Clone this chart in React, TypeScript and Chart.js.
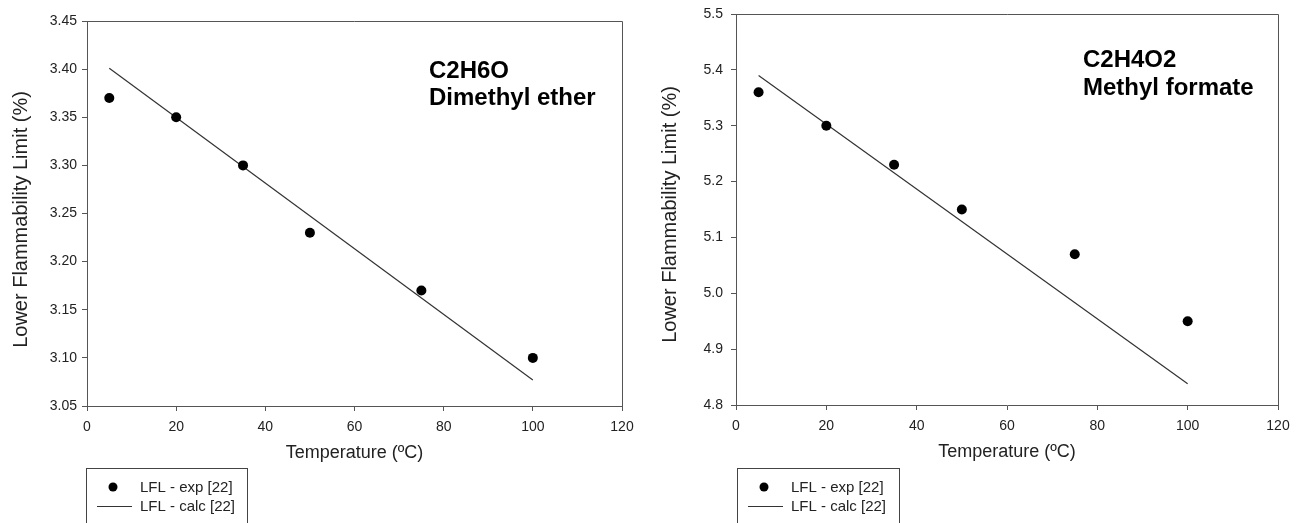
import React, { useEffect, useRef } from "react";
import { Chart, registerables } from "chart.js";

Chart.register(...registerables);

// ---------- data ----------
const expTemperatures = [5, 20, 35, 50, 75, 100];
const calcTemperatures = [5, 100];

const dmeExp = [3.37, 3.35, 3.3, 3.23, 3.17, 3.1];
const dmeCalc = [3.401, 3.077];

const mfExp = [5.36, 5.3, 5.23, 5.15, 5.07, 4.95];
const mfCalc = [5.39, 4.838];

const xTickValues = [0, 20, 40, 60, 80, 100, 120];
const dmeYTicks = [3.05, 3.1, 3.15, 3.2, 3.25, 3.3, 3.35, 3.4, 3.45];
const mfYTicks = [4.8, 4.9, 5.0, 5.1, 5.2, 5.3, 5.4, 5.5];

const legendLabels = ["LFL - exp [22]", "LFL - calc [22]"];
const dmeTitle = ["C2H6O", "Dimethyl ether"];
const mfTitle = ["C2H4O2", "Methyl formate"];
const xAxisTitle = "Temperature (ºC)";
const yAxisTitle = "Lower Flammability Limit (%)";

const FONT = "'Liberation Sans', Arial, Helvetica, sans-serif";
const AXIS_COLOR = "#555555";
const TEXT_COLOR = "#222222";
const H = 523;

type Spec = {
  width: number;
  plotLeft: number;
  plotRight: number;
  plotTop: number;
  plotBottom: number;
  exp: number[];
  calc: number[];
  yTicks: number[];
  decimals: number;
  yTickPadding: number;
  yTitleX: number;
  yTitleShift: number;
  title: string[];
  titleX: number;
  titleY: number;
  titleGap: number;
  legendLeft: number;
  legendWidth: number;
};

const X_AXIS_H = 60;

function buildConfig(spec: Spec): any {
  const framePlugin = {
    id: "frame",
    afterDatasetsDraw(chart: any) {
      const { ctx, chartArea } = chart;
      ctx.save();
      ctx.strokeStyle = AXIS_COLOR;
      ctx.lineWidth = 1;
      ctx.beginPath();
      ctx.moveTo(chartArea.left, chartArea.top + 0.5);
      ctx.lineTo(chartArea.right + 0.5, chartArea.top + 0.5);
      ctx.lineTo(chartArea.right + 0.5, chartArea.bottom);
      ctx.stroke();
      ctx.restore();
    },
    afterDraw(chart: any) {
      const { ctx, chartArea } = chart;
      ctx.save();
      // y axis title
      ctx.save();
      ctx.translate(spec.yTitleX, (chartArea.top + chartArea.bottom) / 2 + spec.yTitleShift);
      ctx.rotate(-Math.PI / 2);
      ctx.font = `20px ${FONT}`;
      ctx.fillStyle = TEXT_COLOR;
      ctx.textAlign = "center";
      ctx.textBaseline = "middle";
      ctx.fillText(yAxisTitle, 0, 0);
      ctx.restore();
      // annotation
      ctx.fillStyle = "#000";
      ctx.font = `bold 24px ${FONT}`;
      ctx.textBaseline = "alphabetic";
      ctx.textAlign = "left";
      spec.title.forEach((t, i) => {
        ctx.fillText(t, spec.titleX, spec.titleY + i * spec.titleGap);
      });
      // legend box
      const bx = spec.legendLeft + 0.5;
      const by = 468.5;
      ctx.strokeStyle = "#444";
      ctx.lineWidth = 1;
      ctx.strokeRect(bx, by, spec.legendWidth, 80);
      ctx.font = `15px ${FONT}`;
      ctx.textBaseline = "middle";
      const ds = chart.data.datasets;
      // row 1 : marker
      ctx.beginPath();
      ctx.fillStyle = "#000";
      ctx.arc(spec.legendLeft + 27, 487, 4.5, 0, Math.PI * 2);
      ctx.fill();
      ctx.fillStyle = TEXT_COLOR;
      ctx.fillText(ds[0].label, spec.legendLeft + 54, 488);
      // row 2 : line
      ctx.beginPath();
      ctx.strokeStyle = "#333";
      ctx.lineWidth = 1.2;
      ctx.moveTo(spec.legendLeft + 11, 506.5);
      ctx.lineTo(spec.legendLeft + 46, 506.5);
      ctx.stroke();
      ctx.fillText(ds[1].label, spec.legendLeft + 54, 507);
      ctx.restore();
    },
  };

  return {
    type: "scatter",
    data: {
      datasets: [
        {
          label: legendLabels[0],
          data: expTemperatures.map((x, i) => ({ x, y: spec.exp[i] })),
          showLine: false,
          pointRadius: 5,
          pointBackgroundColor: "#000",
          pointBorderColor: "#000",
          pointBorderWidth: 0,
        },
        {
          label: legendLabels[1],
          data: calcTemperatures.map((x, i) => ({ x, y: spec.calc[i] })),
          showLine: true,
          pointRadius: 0,
          borderColor: "#333",
          borderWidth: 1.2,
          fill: false,
        },
      ],
    },
    options: {
      animation: false,
      responsive: false,
      events: [],
      layout: {
        padding: {
          left: 0,
          top: spec.plotTop,
          right: spec.width - spec.plotRight,
          bottom: H - spec.plotBottom - X_AXIS_H,
        },
      },
      plugins: {
        legend: { display: false },
        tooltip: { enabled: false },
      },
      scales: {
        x: {
          type: "linear",
          min: 0,
          max: 120,
          afterBuildTicks(scale: any) {
            scale.ticks = xTickValues.map((v) => ({ value: v }));
          },
          afterFit(scale: any) {
            scale.height = X_AXIS_H;
            scale.paddingLeft = 0;
            scale.paddingRight = 0;
          },
          ticks: {
            color: TEXT_COLOR,
            font: { size: 14, family: FONT },
            padding: 8,
            maxRotation: 0,
            autoSkip: false,
            callback: (v: any) => String(v),
          },
          grid: {
            drawOnChartArea: false,
            drawTicks: true,
            tickLength: 5,
            color: AXIS_COLOR,
          },
          border: { display: true, color: AXIS_COLOR, width: 1 },
          title: {
            display: true,
            text: xAxisTitle,
            color: TEXT_COLOR,
            font: { size: 18, family: FONT },
            padding: { top: 0, bottom: 2 },
          },
        },
        y: {
          type: "linear",
          min: spec.yTicks[0],
          max: spec.yTicks[spec.yTicks.length - 1],
          afterBuildTicks(scale: any) {
            scale.ticks = spec.yTicks.map((v) => ({ value: v }));
          },
          afterFit(scale: any) {
            scale.width = spec.plotLeft;
            scale.paddingTop = 0;
            scale.paddingBottom = 0;
          },
          ticks: {
            color: TEXT_COLOR,
            font: { size: 14, family: FONT },
            padding: spec.yTickPadding,
            autoSkip: false,
            callback: (v: any) => Number(v).toFixed(spec.decimals),
          },
          grid: {
            drawOnChartArea: false,
            drawTicks: true,
            tickLength: 5,
            color: AXIS_COLOR,
          },
          border: { display: true, color: AXIS_COLOR, width: 1 },
          title: { display: false },
        },
      },
    },
    plugins: [framePlugin],
  };
}

const leftSpec: Spec = {
  width: 650,
  plotLeft: 87,
  plotRight: 622,
  plotTop: 21,
  plotBottom: 406,
  exp: dmeExp,
  calc: dmeCalc,
  yTicks: dmeYTicks,
  decimals: 2,
  yTickPadding: 5,
  yTitleX: 21,
  yTitleShift: 6,
  title: dmeTitle,
  titleX: 429,
  titleY: 78,
  titleGap: 27,
  legendLeft: 86,
  legendWidth: 161,
};

const rightSpec: Spec = {
  width: 655,
  plotLeft: 86,
  plotRight: 628,
  plotTop: 14,
  plotBottom: 405,
  exp: mfExp,
  calc: mfCalc,
  yTicks: mfYTicks,
  decimals: 1,
  yTickPadding: 8,
  yTitleX: 20,
  yTitleShift: 5,
  title: mfTitle,
  titleX: 433,
  titleY: 67,
  titleGap: 28,
  legendLeft: 87,
  legendWidth: 162,
};

function Panel({ spec, left }: { spec: Spec; left: number }) {
  const ref = useRef<HTMLCanvasElement | null>(null);
  useEffect(() => {
    if (!ref.current) return;
    const chart = new Chart(ref.current, buildConfig(spec));
    return () => chart.destroy();
  }, [spec]);
  return (
    <div style={{ position: "absolute", left, top: 0, width: spec.width, height: H }}>
      <canvas ref={ref} width={spec.width} height={H} style={{ width: spec.width, height: H, display: "block" }} />
    </div>
  );
}

export default function App() {
  return (
    <div
      style={{
        position: "fixed",
        left: 0,
        top: 0,
        width: 1305,
        height: H,
        background: "#fff",
        overflow: "hidden",
      }}
    >
      <Panel spec={leftSpec} left={0} />
      <Panel spec={rightSpec} left={650} />
    </div>
  );
}
